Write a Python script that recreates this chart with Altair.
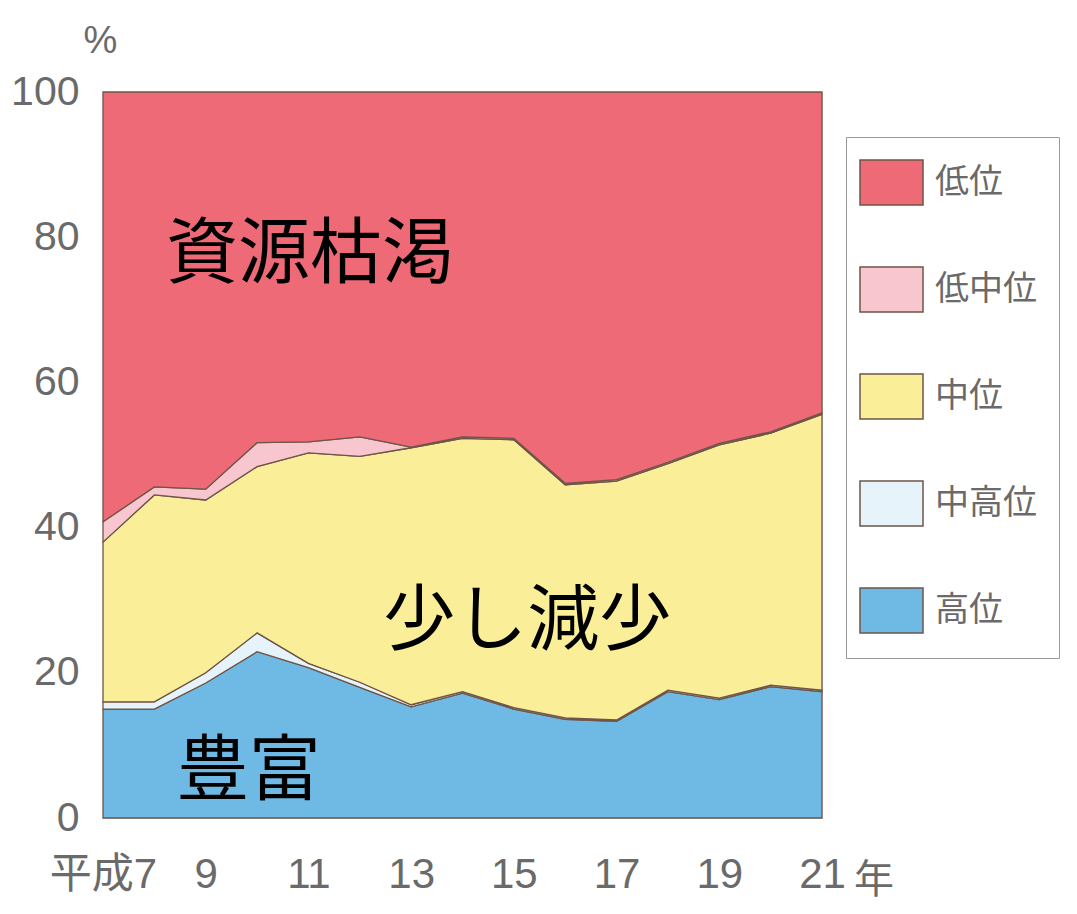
import altair as alt
import pandas as pd

years = list(range(7, 22))
categories = ["低位", "低中位", "中位", "中高位", "高位"]
colors = ["#ef6a77", "#f8c6cf", "#faee98", "#e6f3fa", "#6ebae4"]

koui = [15.0, 15.0, 18.6, 22.9, 20.7, 18.0, 15.3, 17.2, 15.0, 13.6, 13.3, 17.4, 16.3, 18.1, 17.4]
chukoui = [1.0, 1.0, 1.4, 2.6, 0.6, 0.7, 0.3, 0.2, 0.2, 0.2, 0.2, 0.2, 0.2, 0.2, 0.2]
chui = [22.0, 28.5, 23.8, 22.9, 29.0, 31.1, 35.4, 34.9, 36.9, 32.1, 32.9, 31.2, 34.9, 34.7, 38.0]
teichui = [2.8, 1.1, 1.5, 3.3, 1.5, 2.7, 0.1, 0.2, 0.2, 0.2, 0.2, 0.2, 0.2, 0.2, 0.2]
teii = [59.2, 54.4, 54.7, 48.3, 48.2, 47.5, 48.9, 47.5, 47.7, 53.9, 53.4, 51.0, 48.4, 46.8, 44.2]

x_ticks = [7, 9, 11, 13, 15, 17, 19, 21]
y_ticks = [0, 20, 40, 60, 80, 100]

ann_text = ["資源枯渇", "少し減少", "豊富"]
ann_year = [11.03, 15.26, 9.84]
ann_pct = [77.5, 27.0, 6.3]

series = {"高位": koui, "中高位": chukoui, "中位": chui, "低中位": teichui, "低位": teii}
stack_rank = {"高位": 0, "中高位": 1, "中位": 2, "低中位": 3, "低位": 4}

rows = []
for cat, vals in series.items():
    for y, v in zip(years, vals):
        rows.append({"year": y, "cat": cat, "value": v, "rank": stack_rank[cat]})
df = pd.DataFrame(rows)
ann = pd.DataFrame({"t": ann_text, "year": ann_year, "pct": ann_pct})

num_font = "Liberation Sans Narrow, Liberation Sans, Noto Sans CJK JP"
label_expr = "datum.value == 7 ? '平成7' : datum.label"

xenc = alt.X("year:Q", scale=alt.Scale(domain=[7, 21], nice=False),
             axis=alt.Axis(values=x_ticks, labelExpr=label_expr, title=None,
                           labelFontSize=42, labelColor="#6a6a6a", labelFont=num_font,
                           labelPadding=36, tickSize=0, domain=False, grid=False,
                           labelFlush=False))
yenc = alt.Y("value:Q", stack="zero", scale=alt.Scale(domain=[0, 100], nice=False),
             axis=alt.Axis(values=y_ticks, title="%", titleAngle=0, titleX=-3, titleY=-32,
                           titleFontSize=38, titleFontWeight="normal", titleColor="#6a6a6a",
                           titleFont=num_font, titleAlign="center",
                           labelFontSize=41, labelColor="#6a6a6a", labelFont=num_font,
                           labelPadding=24, tickSize=0, domain=False, grid=False))

area = alt.Chart(df).mark_area(stroke="#6e5548", strokeWidth=1.3).encode(
    x=xenc,
    y=yenc,
    color=alt.Color("cat:N", scale=alt.Scale(domain=categories, range=colors),
                    legend=alt.Legend(title=None, orient="none", legendX=743, legendY=45,
                                      symbolType="M-1.4,-1L1.4,-1L1.4,1L-1.4,1Z",
                                      symbolSize=2025, symbolStrokeWidth=1.5,
                                      labelFontSize=34, labelColor="#6a6a6a",
                                      labelFont="Noto Sans CJK JP", labelOffset=20,
                                      rowPadding=56, padding=22, strokeColor="#9a9a9a",
                                      cornerRadius=0)),
    order=alt.Order("rank:Q", sort="ascending"),
)

text = alt.Chart(ann).mark_text(fontSize=72, font="Noto Sans CJK JP", color="#000000",
                                align="center", baseline="middle").encode(
    x="year:Q", y="pct:Q", text="t:N")

nen = alt.Chart(pd.DataFrame({"t": ["年"]})).mark_text(
    fontSize=40, font="Noto Sans CJK JP", color="#6a6a6a", align="center",
    baseline="middle").encode(x=alt.value(771), y=alt.value(789), text="t:N")

chart = alt.layer(area, text, nen).properties(
    width=719, height=726,
    padding={"left": 103, "top": 92, "right": 255, "bottom": 96},
    autosize=alt.AutoSizeParams(type="none"),
).configure_view(stroke="#9a9a9a", strokeWidth=2).configure(background="white")

chart.save("out.html", embed_options={"renderer": "svg", "actions": False})
